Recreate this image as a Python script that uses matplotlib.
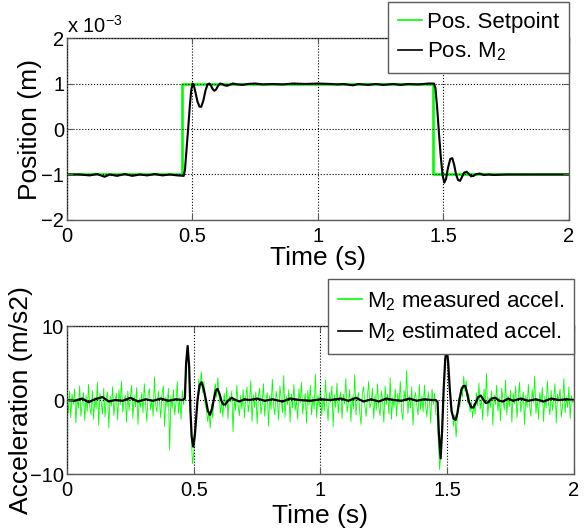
import matplotlib
matplotlib.use("Agg")
import matplotlib.pyplot as plt

plt.rcParams['font.family'] = ['Liberation Sans', 'DejaVu Sans']
plt.rcParams['mathtext.default'] = 'regular'

# --- position (units of 1e-3 m) ---
sp_t = [0.0, 0.46, 0.46, 1.46, 1.46, 2.0]
sp_pos = [-1.0, -1.0, 1.0, 1.0, -1.0, -1.0]

m2_t = [0.0, 0.05, 0.09, 0.12, 0.15, 0.17, 0.20, 0.23, 0.26, 0.29, 0.32, 0.35,
        0.38, 0.41, 0.44, 0.465, 0.47, 0.477, 0.484, 0.49, 0.495, 0.50, 0.505,
        0.512, 0.52, 0.528, 0.535, 0.543, 0.552, 0.56, 0.567, 0.574, 0.58,
        0.587, 0.594, 0.602, 0.61, 0.618, 0.628, 0.638, 0.648, 0.66, 0.68,
        0.70, 0.72, 0.75, 0.78, 0.82, 0.86, 0.90, 0.95, 1.0, 1.05, 1.08, 1.10,
        1.14, 1.16, 1.20, 1.23, 1.26, 1.30, 1.33, 1.36, 1.40, 1.44, 1.462,
        1.468, 1.475, 1.482, 1.489, 1.496, 1.503, 1.51, 1.518, 1.527, 1.535,
        1.543, 1.55, 1.558, 1.566, 1.574, 1.582, 1.592, 1.60, 1.61, 1.62,
        1.63, 1.645, 1.66, 1.68, 1.70, 1.75, 1.80, 2.0]
m2_pos = [-1.0, -1.0, -1.02, -0.99, -1.05, -1.0, -1.03, -0.99, -1.03, -1.0,
          -1.02, -0.99, -1.02, -1.0, -1.02, -1.03, -0.9, -0.4, 0.1, 0.55, 0.85,
          1.0, 0.97, 0.8, 0.6, 0.49, 0.49, 0.62, 0.85, 0.98, 1.0, 0.95, 0.88,
          0.84, 0.87, 0.95, 1.0, 0.99, 0.96, 0.95, 0.97, 1.0, 0.98, 0.97, 0.99,
          1.0, 0.98, 0.99, 0.98, 1.0, 0.99, 1.0, 0.99, 0.98, 0.99, 0.96, 0.99,
          0.97, 0.99, 0.97, 0.99, 0.97, 0.99, 0.98, 1.0, 1.0, 0.9, 0.45, -0.1,
          -0.6, -1.0, -1.18, -1.1, -0.85, -0.66, -0.64, -0.8, -1.0, -1.12,
          -1.14, -1.05, -0.96, -0.94, -0.98, -1.04, -1.03, -0.99, -0.98, -1.01,
          -1.0, -1.01, -1.0, -1.0, -1.0]

# --- acceleration (m/s2), measured signal sampled every 5 ms ---
acc_dt = 0.005
acc_meas = [
    0.3, -1.8, 1.2, -2.4, 0.8, -0.6, 1.5, -3.1, 0.2, -1.1, 1.9, -2.2, -0.4, 1.0, -2.8, 0.6, -1.5, 2.1, -0.9, -2.0,
    1.3, -2.6, 0.4, -1.2, 2.4, -3.4, 0.9, -0.3, -1.9, 1.6, -2.3, 0.1, 1.1, -3.8, 0.5, -0.8, 1.8, -2.1, -0.2, 0.9,
    -2.7, 1.4, -0.6, 2.6, -1.6, -0.1, 0.7, -3.0, 1.2, -1.4, 0.3, 2.0, -2.5, 0.6, -0.9, 1.7, -3.3, 0.2, -1.0, 1.0,
    -1.7, 2.2, -0.5, -2.9, 0.8, 1.5, -1.3, 0.0, -2.2, 3.1, -0.7, -1.6, 1.2, -0.3, -2.4, 0.9, 1.9, -3.6, 0.4, -0.9,
    1.6, -6.8, 0.5, -1.1, 1.4, -2.0, -0.4, 2.5, -1.8, 0.3, -2.6, 1.3, -0.6, 1.2, 4.0, 6.5, 5.0, -0.5, -4.5, -8.6,
    -7.2, -5.5, -2.0, -0.5, 2.8, 1.5, 3.8, 1.0, 2.5, -0.8, -1.2, -2.9, -1.5, -3.8, -0.6, -2.4, 0.9, 2.2, 0.4, 3.0,
    0.8, -1.8, -0.2, -2.3, 0.9, -1.0, 1.7, -2.6, 0.5, -0.3, 1.2, -4.3, 0.2, -1.4, 2.0, -0.7, -2.1, 0.6, -1.2, 1.4,
    -2.4, 0.3, 1.8, -1.6, -0.2, 2.6, -2.9, 0.7, -1.0, 1.1, -3.2, 0.4, 1.6, -1.9, -0.5, 2.2, -2.2, 0.0, 1.0, -3.5,
    0.6, -1.3, 2.8, -0.8, -2.0, 1.2, -0.1, -2.7, 1.9, 0.2, -1.7, 3.3, -2.3, 0.5, -0.6, 1.4, -3.0, 0.8, -1.1, 2.1,
    -1.4, 0.1, -2.6, 1.5, -0.4, 2.4, -1.9, -0.2, 0.9, -3.1, 1.3, -0.7, 2.0, -2.0, 0.4, -1.2, 3.5, -2.4, 0.6, -0.9,
    1.7, -2.1, 0.3, -1.5, 2.7, -0.6, -2.8, 1.0, -0.3, 1.9, -3.6, 0.7, -1.0, 2.3, -1.8, 0.2, 1.1, -2.5, 0.8, -0.5,
    2.9, -1.6, -0.4, 1.4, -2.9, 0.5, -1.2, 3.4, -2.0, 0.1, 1.0, -1.7, -3.3, 0.9, 1.8, -0.8, -2.2, 0.4, 2.5, -1.1,
    -0.3, 1.6, -2.5, 0.7, -1.4, 2.2, -0.9, -2.1, 1.2, 0.0, -3.0, 1.9, -0.6, 0.8, -1.9, 3.0, -2.6, 0.3, -1.0, 1.5,
    -2.2, 0.9, -0.5, 2.5, -1.5, -2.7, 1.3, -0.2, 4.0, -1.8, 0.6, -1.1, 1.8, -3.4, 0.2, 1.0, -0.7, -2.0, 2.1, -1.3,
    0.5, -1.6, 2.0, -0.8, -2.3, 1.1, -0.2, -3.1, 1.5, -0.6, 0.9, -1.9, -2.0, -5.5, -9.4, -7.0, -3.0, 1.5, 4.5, 7.5,
    6.0, 4.0, 1.5, -0.5, -1.5, -3.5, -2.0, -5.0, -2.2, 0.3, -0.9, 1.8, 0.4, 3.2, 1.2, 2.6, -0.3, 0.8, -1.6, -0.2,
    -2.4, -0.5, -1.9, 1.0, -0.8, 2.3, -1.2, 0.1, -2.7, 1.5, -0.4, 3.6, -2.2, 0.3, -1.0, 1.2, -3.4, 0.7, -0.6, 2.0,
    -1.5, 0.4, -2.8, 1.6, -0.1, -1.3, 2.7, -2.0, 0.5, -0.9, 1.3, -3.0, 0.9, -0.5, 1.9, -2.4, 0.0, 2.4, -1.6, -0.3,
    1.1, -3.3, 0.6, -1.0, 2.1, -0.7, -2.2, 1.4, -0.3, 3.2, -1.8, 0.2, -2.6, 1.0, -0.4, 1.7, -2.9, 0.5, -1.1, 2.6,
    -0.6, -2.0, 1.3, -1.4, 0.3, 2.2, -3.1, 0.8, -0.2, 1.5, -2.3, -0.8, 2.9, -1.7, 0.4, -1.0, 1.8, -2.5, 0.6, -0.4,
    0.2]
acc_t = [i * acc_dt for i in range(len(acc_meas))]

est_t = [0.0, 0.03, 0.06, 0.085, 0.11, 0.14, 0.165, 0.19, 0.22, 0.25, 0.28,
         0.31, 0.34, 0.37, 0.40, 0.43, 0.455, 0.465, 0.47, 0.476, 0.482,
         0.487, 0.492, 0.498, 0.505, 0.515, 0.523, 0.531, 0.54, 0.548, 0.556,
         0.564, 0.572, 0.58, 0.587, 0.594, 0.602, 0.61, 0.617, 0.625, 0.635,
         0.65, 0.665, 0.68, 0.70, 0.72, 0.75, 0.78, 0.81, 0.85, 0.88, 0.92,
         0.96, 1.0, 1.04, 1.08, 1.11, 1.14, 1.17, 1.20, 1.23, 1.26, 1.29,
         1.32, 1.35, 1.38, 1.41, 1.44, 1.455, 1.462, 1.467, 1.474, 1.48,
         1.486, 1.492, 1.498, 1.504, 1.51, 1.517, 1.525, 1.533, 1.54, 1.548,
         1.556, 1.564, 1.571, 1.578, 1.586, 1.595, 1.603, 1.612, 1.622, 1.632,
         1.642, 1.652, 1.662, 1.675, 1.69, 1.705, 1.72, 1.74, 1.76, 1.79,
         1.82, 1.85, 1.88, 1.91, 1.94, 1.97, 2.0]
est_acc = [0.0, -0.1, 0.2, -0.3, 0.1, 0.4, -0.2, 0.0, -0.1, 0.3, -0.2, 0.1,
           -0.1, 0.2, -0.1, 0.1, 0.0, 0.2, 5.0, 7.3, 4.5, -1.5, -5.0, -6.3,
           -4.5, 0.0, 2.0, 2.4, 1.4, 0.0, -1.5, -2.0, -1.2, 0.2, 1.3, 1.5, 0.8,
           -0.2, -0.6, -0.6, -0.1, 0.3, 0.0, -0.2, 0.1, 0.0, 0.2, -0.1, 0.1,
           -0.2, 0.2, 0.0, -0.1, 0.1, 0.0, 0.2, -0.1, 0.3, -0.2, 0.1, -0.2,
           0.2, 0.0, -0.1, 0.2, -0.1, 0.1, 0.0, 0.0, -0.3, -4.5, -7.9, -4.0,
           1.5, 5.5, 7.0, 5.0, 1.5, -1.5, -2.5, -2.7, -1.8, 0.0, 1.4, 1.9,
           1.9, 1.0, -0.3, -1.0, -1.0, -0.4, 0.4, 0.6, 0.1, -0.4, -0.3, 0.2,
           0.3, -0.1, -0.2, 0.2, -0.1, 0.2, -0.1, 0.1, -0.2, 0.2, 0.0, 0.1, 0.0]

spine_col = '#5a5a5a'
tick_fs = 14.5
label_fs = 19
leg_fs = 16

fig = plt.figure(figsize=(5.86, 5.31), dpi=100)
ax1 = fig.add_axes([0.1143, 0.5857, 0.8567, 0.3427])
ax2 = fig.add_axes([0.1143, 0.1073, 0.8652, 0.2787])


def style_axes(ax):
    for s in ax.spines.values():
        s.set_color(spine_col)
        s.set_linewidth(1.0)
    ax.tick_params(direction='in', length=4, width=0.8, color=spine_col,
                   top=True, right=True, labelsize=tick_fs)
    ax.tick_params(axis='x', pad=5)
    ax.tick_params(axis='y', pad=2)
    ax.grid(True, color='black', linestyle=':', linewidth=0.8)
    ax.set_axisbelow(False)


def add_legend(ax, top):
    leg = ax.legend(loc='upper right', bbox_to_anchor=(1.0, top),
                    borderaxespad=0, fontsize=leg_fs, fancybox=False,
                    framealpha=1, edgecolor=spine_col, handlelength=1.1,
                    handletextpad=0.2, labelspacing=0.35, borderpad=0.45)
    leg.get_frame().set_linewidth(1.0)
    for h in leg.legend_handles:
        h.set_linewidth(1.2)
    return leg


ax1.plot(sp_t, sp_pos, color='#00ff00', lw=1.9, label='Pos. Setpoint')
ax1.plot(m2_t, m2_pos, color='black', lw=1.5, label='Pos. M$_2$')
ax1.set_xlim(0, 2)
ax1.set_ylim(-2, 2)
ax1.set_xticks([0, 0.5, 1, 1.5, 2])
ax1.set_xticklabels(['0', '0.5', '1', '1.5', '2'])
ax1.set_yticks([-2, -1, 0, 1, 2])
style_axes(ax1)
ax1.set_xlabel('Time (s)', fontsize=label_fs)
ax1.set_ylabel('Position (m)', fontsize=label_fs)
ax1.xaxis.set_label_coords(0.5, -0.145)
ax1.yaxis.set_label_coords(-0.05, 0.5)
ax1.text(0.0, 1.03, 'x 10$^{-3}$', transform=ax1.transAxes,
         fontsize=tick_fs, va='baseline', ha='left')
add_legend(ax1, 1.198)

ax2.plot(acc_t, acc_meas, color='#00ff00', lw=0.6, label='M$_2$ measured accel.')
ax2.plot(est_t, est_acc, color='black', lw=1.6, label='M$_2$ estimated accel.')
ax2.set_xlim(0, 2)
ax2.set_ylim(-10, 10)
ax2.set_xticks([0, 0.5, 1, 1.5, 2])
ax2.set_xticklabels(['0', '0.5', '1', '1.5', '2'])
ax2.set_yticks([-10, 0, 10])
style_axes(ax2)
ax2.set_xlabel('Time (s)', fontsize=label_fs)
ax2.set_ylabel('Acceleration (m/s2)', fontsize=label_fs)
ax2.xaxis.set_label_coords(0.5, -0.2)
ax2.yaxis.set_label_coords(-0.067, 0.5)
add_legend(ax2, 1.3176)

fig.savefig('out.png', dpi=100)
